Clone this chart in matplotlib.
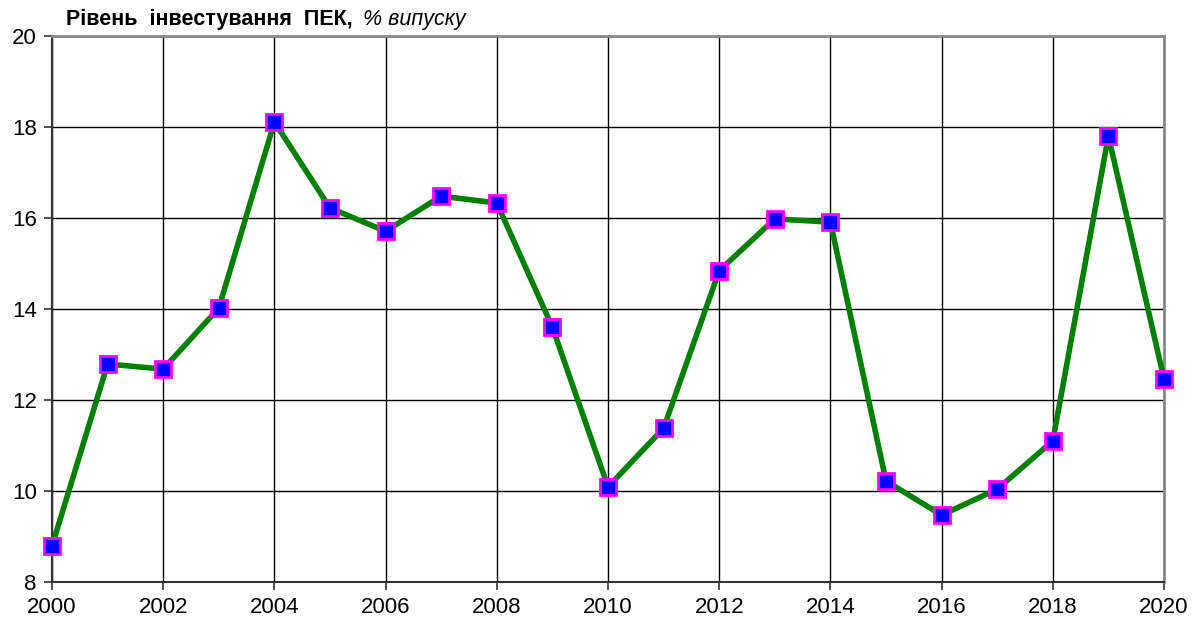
import matplotlib
matplotlib.use("Agg")
import matplotlib.pyplot as plt

years = [2000, 2001, 2002, 2003, 2004, 2005, 2006, 2007, 2008, 2009, 2010,
         2011, 2012, 2013, 2014, 2015, 2016, 2017, 2018, 2019, 2020]
values = [8.79, 12.79, 12.68, 14.02, 18.11, 16.22, 15.71, 16.48, 16.33, 13.6, 10.09,
          11.38, 14.84, 15.98, 15.91, 10.22, 9.47, 10.04, 11.1, 17.8, 12.46]
x_ticks = list(range(2000, 2021, 2))
y_ticks = [8, 10, 12, 14, 16, 18, 20]

plt.rcParams["font.family"] = ["Liberation Sans", "DejaVu Sans"]

fig = plt.figure(figsize=(11.99, 6.26), dpi=100)
ax = fig.add_axes([52 / 1199, 1 - 582 / 626, (1164 - 52) / 1199, (582 - 36) / 626])

ax.plot(years, values, color="#008000", linewidth=4, marker="s", markersize=11,
        markerfacecolor="#0000ff", markeredgecolor="#ff00ff", markeredgewidth=2,
        zorder=3, clip_on=False)

ax.set_xlim(2000, 2020)
ax.set_ylim(8, 20)
ax.set_xticks(x_ticks)
ax.set_yticks(y_ticks)
ax.grid(True, color="black", linewidth=1)
ax.set_axisbelow(True)

for side in ["left", "bottom"]:
    ax.spines[side].set_color("#333333")
    ax.spines[side].set_linewidth(1.5)
for side in ["top", "right"]:
    ax.spines[side].set_color("#888888")
    ax.spines[side].set_linewidth(2)

ax.tick_params(axis="both", direction="out", length=6, width=1.2,
               labelsize=16, color="#333333", pad=5)

fig.text(66 / 1199, 1 - 19 / 626, "Рівень  інвестування  ПЕК,", fontsize=15.5,
         fontweight="bold", va="center", ha="left")
fig.text(363 / 1199, 1 - 19 / 626, "% випуску", fontsize=15.5,
         fontstyle="italic", va="center", ha="left")

fig.savefig("out.png", dpi=100)
